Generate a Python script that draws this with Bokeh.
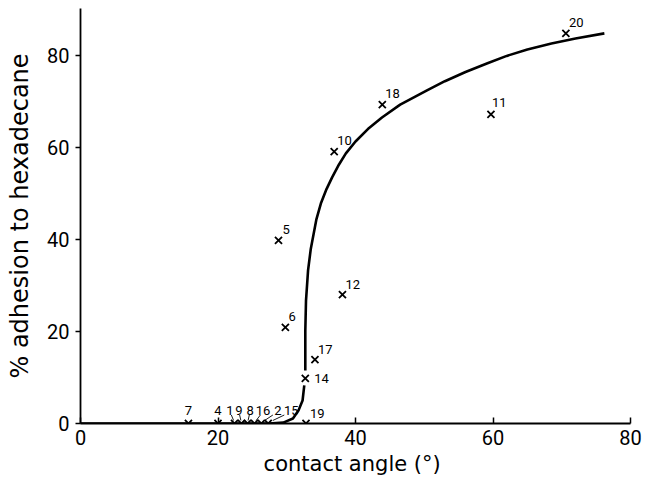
import math
from bokeh.plotting import figure
from bokeh.models import ColumnDataSource, FixedTicker, Range1d
from bokeh.core.properties import value
from bokeh.embed import file_html
from bokeh.resources import INLINE

# ---- data ----
strain = ["7", "4", "1", "9", "8", "16", "2", "15", "19",
          "14", "17", "6", "12", "5", "10", "18", "11", "20"]
contact_angle = [15.7, 20.0, 22.4, 23.4, 24.3, 25.3, 26.3, 27.3, 32.8,
                 32.7, 34.1, 29.8, 38.1, 28.8, 36.9, 43.9, 59.7, 70.6]
adhesion = [0, 0, 0, 0, 0, 0, 0, 0, 0,
            9.8, 13.9, 20.9, 28.0, 39.8, 59.1, 69.3, 67.2, 84.8]

NAN = float("nan")
curve_angle = [0, 27.4, 29.5, 30.9, 31.7, 32.3, 32.55, NAN,
               32.7, 32.7, 32.8, 33.1, 33.5, 34.3, 35.0, 35.8, 36.6, 37.6,
               38.6, 40.0, 41.8, 43.85, 46.5, 50.4, 53.0, 56.0, 59.2, 62.0,
               65.0, 68.5, 72.0, 76.2]
curve_adhesion = [0, 0, 0.2, 1.1, 2.8, 5.0, 8.3, NAN,
                  11.5, 20.2, 26.7, 33.3, 38.0, 44.3, 48.0, 51.0, 53.5, 56.3,
                  58.7, 61.3, 64.0, 66.5, 69.3, 72.4, 74.4, 76.4, 78.3, 79.9,
                  81.3, 82.6, 83.7, 84.8]

x_ticks = [0, 20, 40, 60, 80]
y_ticks = [0, 20, 40, 60, 80]

# ---- label styling (pixel offsets) ----
lab_align = ["center"] * 8 + ["left", "left"] + ["left"] * 8
lab_base = ["bottom"] * 9 + ["middle"] + ["bottom"] * 8
lab_dx = [0, 0, -4.5, -2.5, 2.5, 8.5, 16.5, 23, 4, 9, 3, 3, 3, 4, 3, 3, 1, 3]
lab_dy = [-9, -9, -9, -9, -9, -9, -9, -9, -6, 0, -6, -6, -6, -6, -7, -7, -7, -6]
leader = ["1", "9", "8", "16", "2", "15"]

FONT = "Roboto"
LB, RB, TB, BB = 80, 16, 8, 62
FW, FH = 550, 415
W, H = LB + FW + RB, TB + FH + BB
X0, X1, Y0, Y1 = 0, 80, 0, 90.2
sx = FW / (X1 - X0)
sy = FH / (Y1 - Y0)

p = figure(width=W, height=H, output_backend="svg", toolbar_location=None,
           x_range=Range1d(X0, X1), y_range=Range1d(Y0, Y1),
           min_border_left=LB, min_border_right=RB,
           min_border_top=TB, min_border_bottom=BB)
p.outline_line_color = None
p.xgrid.visible = False
p.ygrid.visible = False
p.background_fill_color = "white"
p.border_fill_color = "white"

# curve
p.line(curve_angle, curve_adhesion, line_color="black", line_width=2.6,
       line_join="round")

# points
src = ColumnDataSource(dict(x=contact_angle, y=adhesion, t=strain,
                            al=lab_align, bl=lab_base, dx=lab_dx, dy=lab_dy))
p.scatter("x", "y", source=src, marker="x", size=10, line_color="black",
          line_width=1.8)
p.text("x", "y", text="t", source=src, text_align="al", text_baseline="bl",
       x_offset="dx", y_offset="dy", text_font=value(FONT),
       text_font_size="13px", text_color="black")

# leader lines for the crowded labels on the baseline
lx0, ly0, lx1, ly1 = [], [], [], []
for s, x, dx in zip(strain, contact_angle, lab_dx):
    if s in leader:
        lx0.append(x + 0.7 * dx / sx)
        ly0.append(8.5 / sy)
        lx1.append(x + 0.2 * dx / sx)
        ly1.append(3.0 / sy)
p.segment(lx0, ly0, lx1, ly1, line_color="black", line_width=0.9)

# axes
for ax in (p.xaxis[0], p.yaxis[0]):
    ax.axis_line_color = "black"
    ax.axis_line_width = 1.8
    ax.major_tick_line_color = "black"
    ax.major_tick_line_width = 1.5
    ax.minor_tick_line_color = None
    ax.major_label_text_font = FONT
    ax.major_label_text_font_size = "20px"
    ax.major_label_text_color = "black"
    ax.axis_label_text_font = "DejaVu Sans"
    ax.axis_label_text_font_style = "normal"
    ax.axis_label_text_color = "black"

p.xaxis.ticker = FixedTicker(ticks=x_ticks)
p.yaxis.ticker = FixedTicker(ticks=y_ticks)
p.xaxis.major_tick_in = 6
p.xaxis.major_tick_out = 0
p.yaxis.major_tick_in = 0
p.yaxis.major_tick_out = 5
p.xaxis.major_label_standoff = 6
p.yaxis.major_label_standoff = 6
p.xaxis.axis_label = "contact  angle (°)"
p.yaxis.axis_label = "% adhesion to hexadecane"
p.xaxis.axis_label_text_font_size = "21px"
p.yaxis.axis_label_text_font_size = "24px"
p.xaxis.axis_label_standoff = 4
p.yaxis.axis_label_standoff = 10

open("out.html", "w").write(file_html(p, INLINE))
